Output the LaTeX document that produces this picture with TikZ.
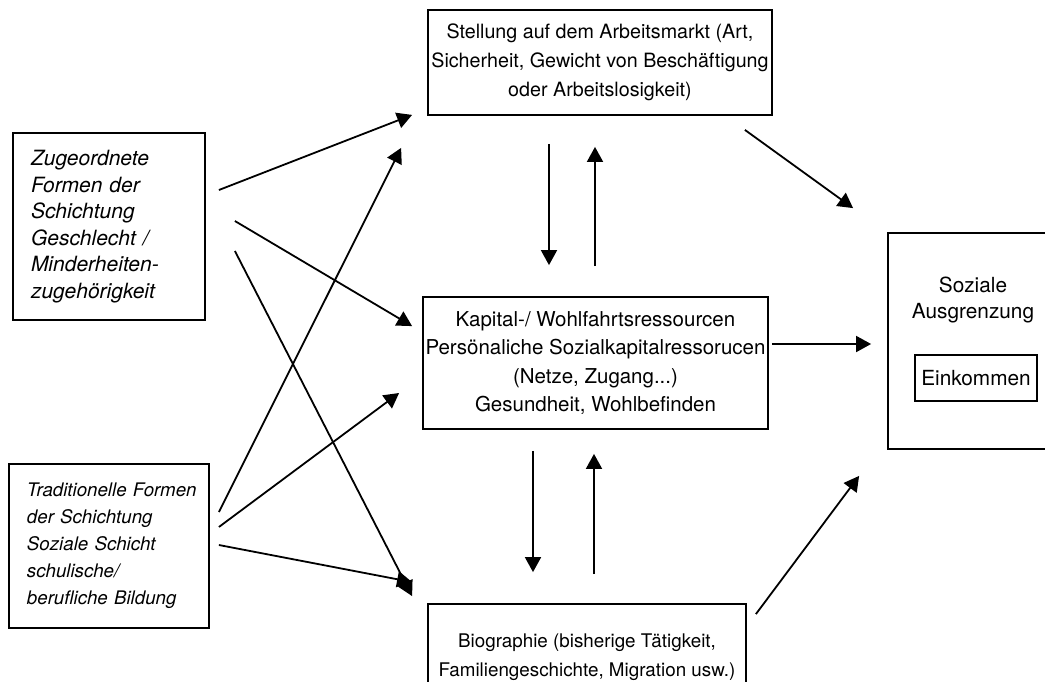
\documentclass[tikz,border=0pt]{standalone}
\usepackage{fontspec}
\setmainfont{TeX Gyre Heros}
\usetikzlibrary{arrows.meta,calc}
\begin{document}
\begin{tikzpicture}[x=1pt,y=-1pt,
  txt/.style={inner sep=0pt,align=center,font=\fontsize{19.7}{28.5}\selectfont},
  box/.style={txt,draw,line width=1.8pt},
  lbox/.style={draw,line width=1.8pt,inner xsep=18pt,inner ysep=0pt,align=left},
  arr/.style={line width=1.8pt,-{Triangle[length=15pt,width=16pt]}}]
\useasboundingbox (0,0) rectangle (1045,681);
\fill[white] (0,0) rectangle (1045,681);

\node[lbox,text width=156pt,minimum height=187pt,font=\fontsize{21}{26.5}\selectfont\itshape] (zug) at (109,226.5)
  {Zugeordnete\\Formen der\\Schichtung\\Geschlecht /\\Minderheiten-\\zugehörigkeit};
\node[lbox,text width=164pt,minimum height=164pt,font=\fontsize{18.7}{27}\selectfont\itshape] (trad) at (109,546)
  {\mbox{Traditionelle Formen}\\der Schichtung\\Soziale Schicht\\schulische/\\berufliche Bildung};

\node[box,minimum width=344pt,minimum height=105pt,font=\fontsize{19.7}{29}\selectfont] (arb) at (600,62.5)
  {Stellung auf dem Arbeitsmarkt (Art,\\Sicherheit, Gewicht von Beschäftigung\\oder Arbeitslosigkeit)};
\node[box,minimum width=345pt,minimum height=132pt,font=\fontsize{20.5}{28.5}\selectfont] (kap) at (595.5,363)
  {Kapital-/ Wohlfahrtsressourcen\\Persönaliche Sozialkapitalressorucen\\(Netze, Zugang...)\\Gesundheit, Wohlbefinden};
\node[box,minimum width=318pt,minimum height=106pt,font=\fontsize{18.8}{28.5}\selectfont] (bio) at (587,657)
  {Biographie (bisherige Tätigkeit,\\Familiengeschichte, Migration usw.)};

\node[draw,line width=1.8pt,minimum width=172pt,minimum height=216pt] (soz) at (974,341) {};
\node[txt,font=\fontsize{20.8}{26}\selectfont] (sozt) at (973,300) {Soziale\\Ausgrenzung};
\node[box,minimum width=122pt,minimum height=46pt,font=\fontsize{20.8}{26}\selectfont] (ein) at (976,378) {Einkommen};

% left to centre
\draw[arr] ($(zug.east)+(13,-36.5)$) -- ($(arb.south west)+(-15,-1)$);
\draw[arr] ($(zug.east)+(29,-5.5)$) -- ($(kap.north west)+(-10,30)$);
\draw[arr] ($(zug.east)+(29,24.5)$) -- ($(bio.north west)+(-15,-7)$);
\draw[arr] ($(trad.east)+(9,-34)$) -- ($(arb.south west)+(-26,32)$);
\draw[arr] ($(trad.east)+(9,-19)$) -- ($(kap.west)+(-23,30)$);
\draw[arr] ($(trad.east)+(9,-1)$) -- ($(bio.north west)+(-15,-21)$);

% vertical pairs
\draw[arr] ($(arb.south)+(-51,28)$) -- ($(kap.north)+(-46.5,-31)$);
\draw[arr] ($(kap.north)+(-0.5,-30)$) -- ($(arb.south)+(-5,31)$);
\draw[arr] ($(kap.south)+(-62.5,21)$) -- ($(bio.north)+(-54,-31)$);
\draw[arr] ($(bio.north)+(7,-29)$) -- ($(kap.south)+(-1.5,24)$);

% to the right
\draw[arr] ($(arb.south east)+(-28,14)$) -- ($(soz.north west)+(-34,-24)$);
\draw[arr] ($(kap.east)+(3,-19)$) -- ($(soz.west)+(-16,3)$);
\draw[arr] ($(bio.north east)+(9,11)$) -- ($(soz.south west)+(-28,26)$);
\end{tikzpicture}
\end{document}
